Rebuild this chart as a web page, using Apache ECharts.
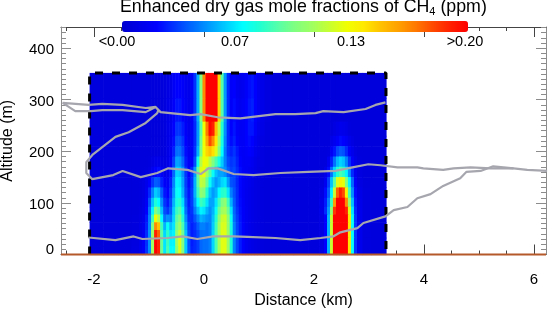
<!DOCTYPE html>
<html><head><meta charset="utf-8">
<style>html,body{margin:0;padding:0;background:#fff}#c{width:550px;height:310px}</style>
<script src="https://cdn.jsdelivr.net/npm/echarts@6/dist/echarts.min.js"></script>
</head><body><div id="c"></div>
<script>
// Distance (km) at the centre of each column
const columnKm = [-1.97,-1.70,-1.43,
 -1.21,-1.155,-1.10,-1.045,-0.99,-0.935,-0.88,-0.825,-0.77,-0.715,-0.66,-0.605,-0.55,
 -0.495,-0.44,-0.385,-0.33,-0.275,-0.22,-0.165,-0.11,-0.055,
 0,0.055,0.11,0.165,0.22,0.275,0.33,0.385,0.44,0.495,
 0.55,0.605,0.66,0.715,0.77,0.825,0.88,0.935,0.99,1.045,
 1.155,1.30,1.48,1.755,2.03,
 2.155,2.21,2.265,2.32,2.37,2.43,2.48,2.535,2.59,2.645,2.70,2.755,2.81,
 2.955,3.14];
// Altitude (m) at the centre of each row, and the methane excess in ppb along it
const rowAlt = [330,275,240,220,200,180,160,140,120,100,85,70,55,40,25,8];
const ch4Ppb = [
[5,5,5, 5,5,5,5,5,5,5,5,5,6,8,10,16, 20,20,18,14,12,16,30,54,100, 165,200,200,200,200,145,90,50,28,18, 20,14,12,14,18,22,24,20,14,10, 7,5,5,5,5, 5,5,5,5,5,5,5,5,5,5,5,5,5, 5,5],
[5,5,5, 5,5,5,5,5,5,5,5,5,6,9,12,18, 24,24,20,15,12,16,30,54,100, 165,200,200,200,200,145,90,50,28,18, 22,16,14,16,20,24,26,20,14,10, 7,5,5,5,5, 5,5,5,5,5,5,5,5,5,5,5,5,5, 5,5],
[5,5,5, 5,5,5,5,5,5,5,5,5,6,9,13,20, 30,30,25,17,13,16,28,50,90, 130,170,198,190,150,118,80,48,28,20, 24,18,15,16,20,24,24,18,12,9, 6,5,5,5,5, 5,5,5,5,8,10,12,11,9,6,5,5,5, 5,5],
[5,5,5, 5,5,5,5,5,5,5,5,5,6,9,14,22, 36,36,30,20,14,17,28,50,95, 130,158,180,165,140,110,76,46,28,22, 26,20,16,16,20,22,20,14,10,8, 6,5,5,5,5, 5,5,5,10,14,18,22,20,16,11,8,5,5, 5,5],
[5,5,5, 5,5,5,5,5,5,5,5,5,6,9,15,26, 42,42,34,22,15,18,30,55,98, 130,145,150,142,125,100,70,44,30,26, 30,24,18,16,18,20,18,12,9,7, 5,5,5,5,5, 5,5,6,16,24,34,38,36,28,18,12,7,5, 5,5],
[5,5,5, 5,5,5,5,6,8,10,10,8,7,10,17,32, 52,50,40,25,17,20,35,75,115, 130,128,115,100,88,75,60,45,34,30, 32,26,20,16,16,16,14,10,8,7, 5,5,5,5,5, 5,5,14,26,42,56,62,58,46,30,18,10,6, 5,5],
[5,5,5, 5,5,5,6,8,14,20,22,16,10,12,22,40, 62,60,48,30,20,28,50,95,125, 128,110,90,72,58,52,52,48,38,32, 34,28,22,17,15,14,12,9,7,6, 5,5,5,5,5, 5,10,22,42,62,80,88,82,68,48,28,14,7, 5,5],
[5,5,5, 5,6,8,12,20,30,38,36,26,18,16,26,46, 68,66,52,32,22,30,55,92,118, 115,95,72,58,50,55,62,65,50,36, 34,27,21,16,14,12,10,8,7,6, 5,5,5,5,5, 6,14,32,58,90,125,135,128,100,68,40,18,8, 5,5],
[5,5,5, 5,6,8,14,28,45,60,55,38,24,20,30,50, 72,70,55,34,24,32,55,85,105, 100,80,58,50,55,70,80,82,65,45, 36,28,21,16,13,11,9,8,7,6, 5,5,5,5,5, 8,22,38,68,120,175,190,180,135,85,48,22,10, 6,5],
[5,5,5, 5,6,9,16,36,58,78,70,48,30,24,34,55, 76,80,64,38,25,32,50,70,85, 80,65,52,52,65,85,100,105,85,55, 38,28,22,17,13,11,9,8,7,6, 5,5,5,5,5, 10,25,45,85,160,200,200,200,165,105,58,25,11, 6,5],
[5,5,5, 5,7,10,20,42,68,100,90,58,35,30,38,60, 84,90,72,42,27,30,44,58,68, 65,55,48,55,72,95,110,112,95,65, 40,30,23,18,14,11,9,8,7,6, 5,5,5,5,5, 10,28,50,105,185,200,200,200,190,125,65,28,12, 6,5],
[5,5,5, 6,8,12,24,45,85,130,115,70,42,48,45,62, 92,100,80,48,29,28,36,46,55, 52,48,46,58,80,104,120,122,104,72, 42,32,24,18,14,11,9,8,7,6, 5,5,5,5,5, 8,20,55,120,200,200,200,200,200,140,72,30,12, 6,5],
[5,5,5, 6,9,14,26,46,100,165,150,85,55,72,58,65, 98,108,88,54,32,26,30,38,45, 45,42,45,60,85,110,124,124,106,76, 45,33,25,19,14,11,9,8,7,6, 5,5,5,5,5, 8,20,55,120,200,200,200,200,200,140,72,30,12, 6,5],
[5,5,5, 7,10,15,28,48,108,190,175,92,62,82,65,68, 105,120,96,58,34,25,28,34,42, 43,42,45,62,88,112,126,126,108,78, 46,34,25,19,14,11,9,8,7,6, 5,5,5,5,5, 8,20,55,120,200,200,200,200,200,140,72,30,12, 6,5],
[5,5,5, 7,11,17,29,48,110,200,190,95,65,85,68,68, 110,125,100,60,35,25,28,32,40, 42,42,45,62,88,112,126,126,108,78, 46,34,25,19,14,11,9,8,7,6, 5,5,5,5,5, 8,20,55,120,200,200,200,200,200,140,72,30,12, 6,5],
[5,5,5, 8,12,18,30,48,110,200,190,95,65,88,70,70, 105,125,100,60,36,26,28,32,40, 42,42,45,62,88,112,126,126,108,78, 46,34,25,19,14,11,9,8,7,6, 5,5,5,5,5, 8,20,55,120,200,200,200,200,200,140,72,30,12, 6,5]
];
// Flight tracks [km, m]
const upperTrack = [[6.24,162],[5.88,164],[5.63,167],[5.21,167],[4.85,169],[4.54,167],[4.35,164],[3.99,167],[3.88,169],[3.52,169],[3.21,173],[2.99,175],[2.70,169],[2.39,162],[1.90,160],[1.39,158],[0.90,154],[0.54,156],[0.25,167],[0.08,167],[-0.06,156],[-0.30,164],[-0.65,167],[-0.85,158],[-1.15,150],[-1.48,162],[-1.65,154],[-2.03,146],[-2.14,158],[-2.14,179],[-2.03,193],[-1.61,228],[-1.37,237],[-1.06,255],[-0.85,274],[-0.83,280],[-0.88,286],[-1.06,276],[-1.48,280],[-1.85,280],[-2.06,278],[-2.34,278],[-2.57,294],[-2.10,290],[-1.85,292],[-1.48,290],[-1.06,284],[-0.88,286],[-0.79,276],[-0.25,270],[-0.06,272],[0.25,266],[0.66,264],[1.30,272],[1.66,272],[2.03,274],[2.17,278],[2.54,276],[2.94,282],[3.12,290],[3.30,295]];
const lowerTrack = [[-2.10,33],[-1.61,28],[-1.28,35],[-1.12,30],[-0.66,32],[-0.39,35],[-0.12,30],[0.17,35],[0.54,35],[0.79,34],[1.30,32],[1.75,28],[2.12,32],[2.35,35],[2.48,43],[2.79,51],[2.90,61],[3.30,74],[3.45,86],[3.70,92],[3.88,109],[4.12,117],[4.35,133],[4.66,148],[4.77,160],[5.03,162],[5.26,171],[5.63,167]];
const boxLine = [[-2.08,0],[-2.08,352],[3.31,352],[3.31,0]];
const xRange = [-2.6,6.22];
const yRange = [0,441];
const groundLine = [[-2.6,0],[6.22,0]];
const xMajor = [-2,0,2,4,6];
const xMinor = [-2.5,-1.5,-1,-0.5,0.5,1,1.5,2.5,3,3.5,4.5,5,5.5];
const yMajor = [0,100,200,300,400];
const yMinor = [];
for (let v=10;v<441;v+=10) if (v%100) yMinor.push(v);
const barLabels = ['<0.00','0.07','0.13','>0.20'];
const barLabelPx = [117,235,351,465];
const colors = ['#0000d0','#0000e8','#0000ff','#0033ff','#0066ff','#0099ff','#00ccff','#00ffff','#22ffd0','#55ffaa','#80ff80','#a0ff60','#c8ff30','#f0ff00','#ffe800','#ffc000','#ffa000','#ff7800','#ff4800','#ff2000','#ff0000'];

const FONT='"Liberation Sans",Arial,sans-serif';
function edges(c,lo,hi){const e=[lo];for(let i=0;i<c.length-1;i++)e.push((c[i]+c[i+1])/2);e.push(hi);return e;}
const xE = edges(columnKm,-2.08,3.31);
const yE = edges(rowAlt,352,0);
const cells=[];
ch4Ppb.forEach((row,r)=>row.forEach((v,c)=>{cells.push([columnKm[c],rowAlt[r],v,xE[c],xE[c+1],yE[r+1],yE[r]]);}));

function xAx(pos,vals,len,labels,color,line){return {type:'value',position:pos,min:xRange[0],max:xRange[1],splitLine:{show:false},
  axisLine:{show:line,onZero:false,lineStyle:{color:color,width:1}},
  axisTick:{show:true,inside:true,length:len,customValues:vals,lineStyle:{color:color,width:1}},
  axisLabel:labels?{show:true,customValues:xMajor,margin:18,fontFamily:FONT,fontSize:15,color:'#000'}:{show:false}};}
function yAx(pos,vals,len,labels,line){return {type:'value',position:pos,min:yRange[0],max:yRange[1],splitLine:{show:false},
  axisLine:{show:line,onZero:false,lineStyle:{color:'#8c8c8c',width:1}},
  axisTick:{show:true,inside:true,length:len,customValues:vals,lineStyle:{color:'#8c8c8c',width:1}},
  axisLabel:labels?{show:true,customValues:yMajor,margin:7,fontFamily:FONT,fontSize:15,color:'#000',padding:[4,0,0,0],
    formatter:v=>v===0?'{z|0}':String(v),rich:{z:{fontFamily:FONT,fontSize:15,color:'#000',padding:[0,0,14,0]}}}:{show:false}};}

const xAxes=[xAx('bottom',xMajor,10,true,'#444',true),xAx('bottom',xMinor,4,false,'#444',false),xAx('top',xMajor,10,false,'#444',true),xAx('top',xMinor,4,false,'#444',false)];
xAxes[0].name='Distance (km)';xAxes[0].nameLocation='middle';xAxes[0].nameGap=36;xAxes[0].nameTextStyle={fontFamily:FONT,fontSize:16,color:'#000'};
const yAxes=[yAx('left',yMajor,10,true,true),yAx('left',yMinor,5,false,false),yAx('right',yMajor,10,false,true),yAx('right',yMinor,5,false,false)];
yAxes[0].name='Altitude (m)';yAxes[0].nameLocation='middle';yAxes[0].nameGap=45;yAxes[0].nameTextStyle={fontFamily:FONT,fontSize:16,color:'#000'};

const chart=echarts.init(document.getElementById('c'),null,{renderer:'canvas'});
const track={type:'line',symbol:'none',lineStyle:{color:'#a6a6ae',width:2.2},z:6,animation:false};
chart.setOption({
 animation:false,backgroundColor:'#fff',
 grid:{left:61,right:4,top:27,bottom:55.5,containLabel:false,outerBoundsMode:'none'},
 xAxis:xAxes,yAxis:yAxes,
 title:{left:120,top:-2,padding:0,text:'{a|Enhanced dry gas mole fractions of CH}{s|4}{a| (ppm)}',
  textStyle:{fontWeight:'normal',rich:{a:{fontFamily:FONT,fontSize:17.8,fontWeight:'normal',color:'#000'},s:{fontFamily:FONT,fontSize:11,fontWeight:'normal',color:'#000',verticalAlign:'bottom',padding:[8,0,0,0]}}}},
 visualMap:{type:'continuous',show:true,seriesIndex:0,dimension:2,min:0,max:200,calculable:false,orient:'horizontal',
  left:122,top:21,padding:0,itemWidth:11,itemHeight:346,text:['',''],showLabel:false,inRange:{color:colors},z:20},
 series:[
  {type:'custom',data:cells,encode:{x:0,y:1},z:2,animation:false,silent:true,
   renderItem(p,api){const a=api.coord([api.value(3),api.value(6)]),b=api.coord([api.value(4),api.value(5)]);
     return {type:'rect',shape:{x:a[0],y:a[1],width:b[0]-a[0]+0.6,height:b[1]-a[1]+0.6},style:{fill:api.visual('color')}};}},
  {type:'line',data:boxLine,symbol:'none',z:4,clip:false,animation:false,lineStyle:{color:'#000',width:3,type:[8,9]}},
  {type:'line',data:groundLine,symbol:'none',z:5,clip:false,animation:false,lineStyle:{color:'#b5592a',width:2}},
  Object.assign({data:upperTrack},track),
  Object.assign({data:lowerTrack},track)
 ],
 graphic:barLabels.map((t,i)=>({type:'text',x:barLabelPx[i],y:42,z:30,style:{text:t,fontFamily:FONT,fontSize:14.5,fill:'#000',align:'center',verticalAlign:'middle'}}))
});
</script></body></html>
